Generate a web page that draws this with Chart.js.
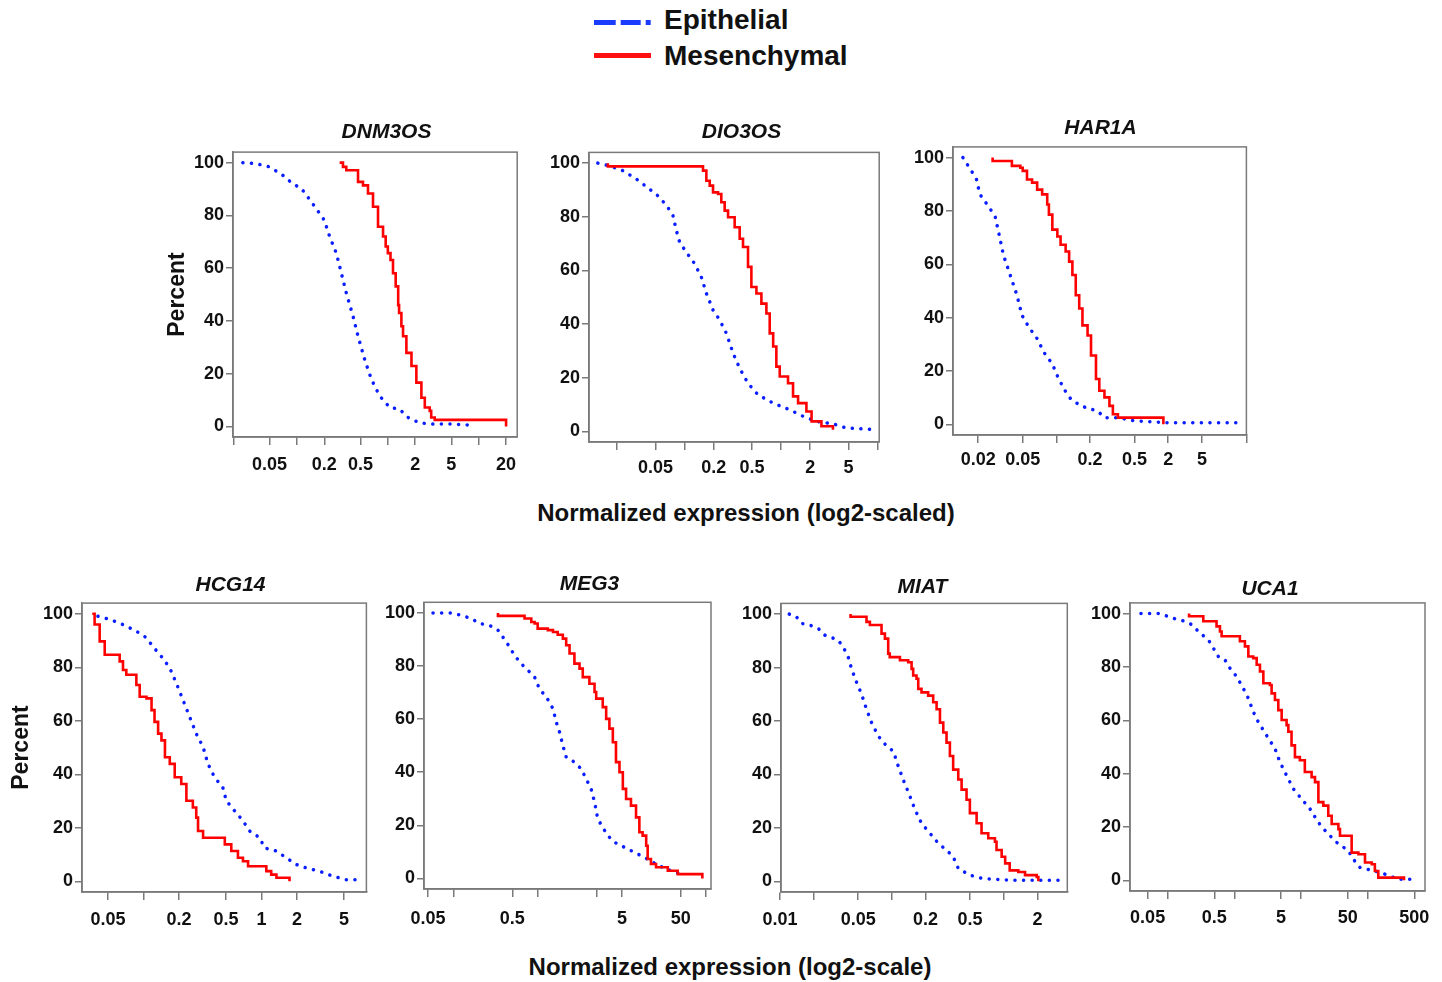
<!DOCTYPE html>
<html>
<head>
<meta charset="utf-8">
<script src="https://cdn.jsdelivr.net/npm/chart.js@4.4.1/dist/chart.umd.min.js"></script>
<style>
  body { margin: 0; width: 1442px; height: 982px; overflow: hidden; background: #fff; position: relative;
         font-family: 'Liberation Sans', Arial, sans-serif; }
  canvas { position: absolute; }
  .txt { position: absolute; font-weight: bold; color: #111; white-space: nowrap; line-height: 1; }
</style>
</head>
<body>

<!-- shared legend -->
<svg style="position:absolute;left:0;top:0" width="700" height="80">
  <line x1="594" y1="22.5" x2="651" y2="22.5" stroke="#1a3cff" stroke-width="5" stroke-dasharray="21.7 5 20 5 5"/>
  <line x1="594" y1="55.5" x2="651" y2="55.5" stroke="#ff1010" stroke-width="5"/>
</svg>
<div class="txt" style="left:664px;top:6px;font-size:28px">Epithelial</div>
<div class="txt" style="left:664px;top:42px;font-size:28px">Mesenchymal</div>

<!-- shared x axis titles -->
<div class="txt" style="left:746px;top:501px;font-size:24px;transform:translateX(-50%)">Normalized expression (log2-scaled)</div>
<div class="txt" style="left:730px;top:955px;font-size:24px;transform:translateX(-50%)">Normalized expression (log2-scale)</div>

<script>

const yTicks = [0, 20, 40, 60, 80, 100];

// DNM3OS
const dnm3osTicks  = [0.02, 0.05, 0.1, 0.2, 0.5, 1, 2, 5, 10, 20];
const dnm3osLabels = ['', '0.05', '', '0.2', '0.5', '', '2', '5', '', '20'];
const dnm3osEpi = [[0.0254,100],[0.0357,99.6],[0.05,98.4],[0.070,95.2],[0.090,92],[0.112,90.2],[0.127,87.7],
  [0.163,82.6],[0.20,78.2],[0.229,72],[0.271,65.7],[0.308,58.1],[0.349,50.6],[0.414,41.8],[0.47,34.2],
  [0.556,25.4],[0.659,17.9],[0.812,11.6],[1.05,7.2],[1.35,6.5],[1.67,3.4],[2.25,1.3],[3.15,0.9],[5.23,0.9],[7.98,0.5]];
const dnm3osMes = [[0.295,100],[0.321,98.4],[0.349,97.1],[0.432,97.1],[0.47,92.7],[0.533,91.4],[0.605,88.3],
  [0.687,83.3],[0.78,75.7],[0.886,72],[0.947,68.2],[1.0,65.7],[1.07,63.1],[1.14,58.1],[1.22,53.1],[1.3,46],
  [1.33,43],[1.41,38],[1.47,34.2],[1.6,27.9],[1.82,22.9],[2.06,16.6],[2.34,10.9],[2.55,7.2],[2.89,5.9],
  [3.0,3.4],[3.28,2.5],[20,2.5],[20,0]];

// DIO3OS
const dio3osTicks  = [0.02, 0.05, 0.1, 0.2, 0.5, 1, 2, 5, 10];
const dio3osLabels = ['', '0.05', '', '0.2', '0.5', '', '2', '5', ''];
const dio3osEpi = [[0.0126,100],[0.0167,99],[0.0229,97.2],[0.0315,94.1],[0.0433,90.3],[0.055,87.3],[0.067,83.5],
  [0.0757,80.4],[0.082,74.9],[0.0888,70.5],[0.104,66.8],[0.127,62.5],[0.149,57.5],[0.168,51.4],[0.197,45.2],
  [0.231,41.5],[0.271,36.5],[0.318,29.1],[0.372,23.5],[0.454,17.9],[0.577,13.6],[0.828,10.5],[1.23,8.0],
  [1.69,5.6],[2.33,3.7],[3.45,2.8],[4.76,1.2],[9.76,0.6]];
const dio3osMes = [[0.016,100],[0.016,98.8],[0.1375,98.8],[0.155,97.2],[0.168,93.4],[0.182,91.6],[0.197,89.1],
  [0.222,88.5],[0.24,85.4],[0.26,82.3],[0.282,79.8],[0.33,76.1],[0.372,71.8],[0.403,68.7],[0.454,61.3],
  [0.492,53.8],[0.555,51.4],[0.625,47.6],[0.704,43.9],[0.762,36.5],[0.828,31.6],[0.893,24.1],[0.968,20.4],
  [1.18,17.9],[1.33,13],[1.5,10.5],[1.83,7.4],[2.07,3.7],[2.33,3.7],[2.62,1.9],[3.45,1.9],[3.45,0.6]];

// HAR1A
const har1aTicks  = [0.02, 0.05, 0.1, 0.2, 0.5, 1, 2, 5];
const har1aLabels = ['0.02', '0.05', '', '0.2', '0.5', '2', '5', ''];
const har1aEpi = [[0.0146,100],[0.0174,95],[0.0193,91.8],[0.0207,86.2],[0.0246,81.8],[0.0283,78],[0.0303,72.3],
  [0.0336,63.5],[0.0386,56],[0.0444,48.4],[0.0492,40.9],[0.0566,36.5],[0.0673,32.1],[0.0773,27],[0.092,22.6],
  [0.102,18.2],[0.117,13.2],[0.135,9.4],[0.166,6.9],[0.204,5.7],[0.234,5.0],[0.269,2.5],[0.355,2.5],
  [0.502,1.3],[1.0,0.6],[4.3,0.6]];
const har1aMes = [[0.0269,100],[0.0269,98.7],[0.036,98.7],[0.04,96.9],[0.0476,96.2],[0.05,95],[0.0546,91.8],
  [0.0606,90.6],[0.0673,88],[0.0746,86.2],[0.0828,82.4],[0.0857,78.6],[0.092,73],[0.102,70.4],[0.109,67.3],
  [0.121,64.8],[0.13,61],[0.139,56],[0.149,48.4],[0.16,43.4],[0.171,37.1],[0.19,33.3],[0.204,25.8],
  [0.226,17],[0.242,12.6],[0.269,10.1],[0.298,6.9],[0.32,3.8],[0.355,2.5],[0.874,2.5],[0.905,0]];

// HCG14
const hcg14Ticks  = [0.05, 0.1, 0.2, 0.5, 1, 2, 5];
const hcg14Labels = ['0.05', '', '0.2', '0.5', '1', '2', '5'];
const hcg14Epi = [[0.0411,99.1],[0.0517,97.9],[0.067,96],[0.087,93.5],[0.106,91],[0.12,87.8],[0.146,83.4],
  [0.167,79.7],[0.19,74],[0.216,67.8],[0.246,61.5],[0.28,55.2],[0.32,50.2],[0.352,43.9],[0.4,38.9],
  [0.47,35.1],[0.504,30.1],[0.593,26.3],[0.697,22.6],[0.795,18.8],[0.967,16.3],[1.06,12.5],[1.34,11.3],
  [1.62,8.8],[1.97,6.3],[2.4,5.0],[3.1,3.8],[4.05,1.9],[5.24,0.6],[6.38,0.6]];
const hcg14Mes = [[0.0368,100],[0.0385,96],[0.0425,89.7],[0.0469,84.7],[0.059,84.7],[0.0628,82.2],[0.067,79],
  [0.0715,77.2],[0.0815,77.2],[0.087,73.4],[0.0928,69],[0.106,68.4],[0.117,64],[0.124,59.6],[0.133,55.2],
  [0.142,52.7],[0.152,46.4],[0.167,43.9],[0.184,38.9],[0.209,36.4],[0.231,30.1],[0.262,27.6],[0.28,23.8],
  [0.29,18.8],[0.32,16.3],[0.457,16.3],[0.489,13.8],[0.555,11.3],[0.632,8.8],[0.697,7.5],[0.77,5.6],
  [1.0,5.6],[1.1,3.8],[1.21,2.5],[1.34,1.3],[1.73,1.3],[1.73,0]];

// MEG3
const meg3Ticks  = [0.05, 0.1, 0.5, 1, 5, 10, 50, 100];
const meg3Labels = ['0.05', '', '0.5', '', '', '5', '50', ''];
const meg3Epi = [[0.0573,100],[0.0945,100],[0.124,99.1],[0.163,97.9],[0.204,96],[0.269,95.3],[0.338,93.5],
  [0.387,90.9],[0.464,87.2],[0.532,84],[0.637,80.9],[0.767,78.4],[0.92,75.8],[1.05,71.4],[1.27,68.3],
  [1.52,63.9],[1.66,58.9],[1.82,55.1],[1.99,50.1],[2.18,45.7],[2.73,43.8],[3.28,41.3],[3.76,37.5],
  [4.31,33.7],[4.73,28.7],[5.17,22.4],[5.92,19.2],[6.8,16.1],[8.16,13.6],[10.7,11.7],[14.1,9.8],
  [18.5,7.9],[25.4,5.4],[33.3,3.5],[43.9,2.3],[55,1.0]];
const meg3Mes = [[0.338,100],[0.338,98.9],[0.637,98.9],[0.699,97.9],[0.8,97.9],[0.84,96.6],[0.92,96],
  [1.0,94.1],[1.2,94.1],[1.32,93.5],[1.52,92.8],[1.73,91.8],[1.99,90.3],[2.18,87.8],[2.39,84.7],
  [2.73,80.9],[3.14,79],[3.43,75.8],[4.11,73.3],[4.73,70.2],[4.95,67.7],[5.92,64.5],[6.5,60.1],
  [7.1,56.4],[7.8,51.3],[8.5,43.8],[9.35,40],[10.25,33.7],[11.2,29.9],[12.8,27.4],[14.7,23],
  [16.1,17.4],[17.6,16.1],[19.4,12.3],[20.2,7.3],[22.1,5.4],[25.4,4.2],[35,2.9],[45.9,1.6],[86.8,1.6],[90,0]];

// MIAT
const miatTicks  = [0.01, 0.02, 0.05, 0.1, 0.2, 0.5, 1, 2];
const miatLabels = ['0.01', '', '0.05', '', '0.2', '0.5', '', '2'];
const miatEpi = [[0.0121,100],[0.014,99],[0.0156,96.5],[0.0185,95.9],[0.022,94.6],[0.0252,92.1],[0.0279,91.5],
  [0.0331,90.2],[0.0367,87.7],[0.0407,83.9],[0.0436,79.5],[0.0483,74.5],[0.0535,70.1],[0.0593,64.4],
  [0.0658,59.4],[0.0755,54.4],[0.0896,50.6],[0.103,48.7],[0.114,43.1],[0.126,38.1],[0.145,31.8],
  [0.161,26.8],[0.184,21.7],[0.219,18],[0.26,14.2],[0.308,11.7],[0.353,9.2],[0.392,4.8],[0.498,2.3],
  [0.656,1.0],[1.21,0.4],[3.18,0.4]];
const miatMes = [[0.0427,100],[0.0427,99],[0.0554,99],[0.0593,97.1],[0.0636,95.9],[0.0755,95.9],[0.0808,92.7],
  [0.0866,90.8],[0.0927,85.2],[0.0957,83.9],[0.11,83.9],[0.118,82.7],[0.14,82],[0.15,79.5],[0.155,77],
  [0.166,75.8],[0.172,72],[0.184,70.7],[0.211,69.5],[0.234,67],[0.251,64.4],[0.269,59.4],[0.288,55.7],
  [0.308,51.9],[0.33,46.9],[0.353,41.8],[0.392,38.1],[0.42,34.3],[0.465,30.5],[0.498,25.5],[0.572,21.7],
  [0.633,18],[0.727,16.1],[0.834,14.8],[0.862,11.7],[0.958,9.2],[1.03,6.7],[1.13,4.1],[1.35,3.5],
  [1.55,2.3],[1.97,1.6],[2.04,0]];

// UCA1
const uca1Ticks  = [0.05, 0.1, 0.5, 1, 5, 10, 50, 100, 500];
const uca1Labels = ['0.05', '', '0.5', '', '5', '', '50', '', '500'];
const uca1Epi = [[0.0397,100],[0.0767,100],[0.1145,98.4],[0.182,97.1],[0.228,95.9],[0.305,92.7],[0.406,90.2],
  [0.483,87.1],[0.574,83.9],[0.72,82.7],[0.86,79.5],[1.08,76.4],[1.36,72],[1.62,68.2],[1.92,63.2],
  [2.28,59.4],[3.03,54.4],[4.06,49.4],[4.83,44.3],[6.07,39.3],[7.67,34.3],[10.2,30.5],[13.6,26.8],
  [18.2,21.7],[24.2,18],[34.2,14.2],[51.3,11.1],[60.9,7.9],[76.6,4.8],[128,3.5],[181,2.3],[288,0.4],[483,0.4]];
const uca1Mes = [[0.209,100],[0.209,99],[0.305,99],[0.342,97.1],[0.483,97.1],[0.54,95.2],[0.608,93.3],
  [0.644,91.5],[1.02,91.5],[1.21,89.6],[1.44,87.7],[1.62,83.9],[1.92,83.3],[2.16,80.8],[2.42,78.3],
  [2.72,73.9],[3.41,73.2],[3.62,70.1],[4.06,67.6],[4.56,63.8],[5.12,60.1],[6.07,58.2],[6.45,55.7],
  [7.2,50.6],[8.1,46.2],[9.6,45],[11.4,40.6],[14.4,38.7],[16.2,36.8],[18.2,29.3],[21.6,28],[25.6,24.2],
  [28.8,21.1],[36.3,19.2],[38.4,16.7],[51.3,16.7],[57.4,10.4],[72.5,9.8],[91,6.7],[115,6.0],[128,3.5],
  [144,1.0],[342,1.0],[350,0]];

// layout of the seven panels: plot box [left, top, right, bottom] in page px,
// title centre x and its distance above the box, x range, label padding, "Percent" title offset
const panels = [
  {name: 'DNM3OS', epi: dnm3osEpi, mes: dnm3osMes, ticks: dnm3osTicks, labels: dnm3osLabels,
   min: 0.0198, max: 26.5, box: [233.3, 151.7, 517.3, 437], titleX: 386.7, titleGap: 19.5, labelPad: 9.5, percent: 5.5},
  {name: 'DIO3OS', epi: dio3osEpi, mes: dio3osMes, ticks: dio3osTicks, labels: dio3osLabels,
   min: 0.0102, max: 10.4, box: [589.3, 152.3, 879.3, 441.7], titleX: 741.7, titleGap: 19.8, labelPad: 7.2},
  {name: 'HAR1A', epi: har1aEpi, mes: har1aMes, ticks: har1aTicks, labels: har1aLabels,
   min: 0.0119, max: 5.0, box: [953.3, 147.3, 1246.7, 435.7], titleX: 1100.8, titleGap: 18.3, labelPad: 6.5},
  {name: 'HCG14', epi: hcg14Epi, mes: hcg14Mes, ticks: hcg14Ticks, labels: hcg14Labels,
   min: 0.0301, max: 7.76, box: [82.3, 603.3, 366.7, 891.7], titleX: 230.8, titleGap: 17.5, labelPad: 9, percent: 1.2},
  {name: 'MEG3', epi: meg3Epi, mes: meg3Mes, ticks: meg3Ticks, labels: meg3Labels,
   min: 0.0448, max: 114, box: [424.3, 602.7, 711.7, 889.3], titleX: 590, titleGap: 17.7, labelPad: 11.2},
  {name: 'MIAT', epi: miatEpi, mes: miatMes, ticks: miatTicks, labels: miatLabels,
   min: 0.0102, max: 3.7, box: [781, 603.3, 1067.3, 891.7], titleX: 922.5, titleGap: 15.8, labelPad: 9},
  {name: 'UCA1', epi: uca1Epi, mes: uca1Mes, ticks: uca1Ticks, labels: uca1Labels,
   min: 0.0272, max: 723, box: [1130, 603.3, 1425, 891.7], titleX: 1270, titleGap: 13.3, labelPad: 8.2}
];

Chart.defaults.font.family = "'Liberation Sans', Arial, sans-serif";
Chart.defaults.color = '#111';

const axisGray = '#7a7a7a';
const tickFont = {size: 18, weight: 'bold'};
const Yw = 75;   // y axis width
const Xh = 45;   // x axis height

// box round the plot area (top and right sides too)
const frame = {
  id: 'frame',
  beforeDatasetsDraw(chart) {
    const {ctx, chartArea: {left, top, right, bottom}} = chart;
    ctx.save();
    ctx.strokeStyle = axisGray;
    ctx.lineWidth = 1.5;
    ctx.strokeRect(left, top, right - left, bottom - top);
    ctx.restore();
  }
};

const toXY = arr => arr.map(([x, y]) => ({x, y}));

panels.forEach(p => {
  const [l, t, r, b] = p.box;
  const q = Yw + 2 * (p.titleX - (l + r) / 2);   // spare width on the right so the title sits where it should
  const pb = p.titleGap - 12.6;
  const tb = 4 + 25.2 + pb;
  const cv = document.createElement('canvas');
  cv.width = Math.round(Yw + (r - l) + q);
  cv.height = Math.round(tb + (b - t) + Xh);
  cv.style.left = Math.round(l - Yw) + 'px';
  cv.style.top = Math.round(t - tb) + 'px';
  document.body.appendChild(cv);

  new Chart(cv, {
    type: 'line',
    data: {
      datasets: [
        {
          label: 'Mesenchymal',
          data: toXY(p.mes),
          borderColor: '#ff0000',
          borderWidth: 2.6,
          stepped: true,
          pointRadius: 0,
          fill: false,
          yAxisID: 'y'
        },
        {
          label: 'Epithelial',
          data: toXY(p.epi),
          borderColor: '#0a1eff',
          borderWidth: 3.5,
          borderDash: [0.1, 8.5],
          borderCapStyle: 'round',
          pointRadius: 0,
          fill: false,
          yAxisID: 'y'
        }
      ]
    },
    options: {
      responsive: false,
      animation: false,
      layout: {padding: 0},
      scales: {
        x: {
          type: 'logarithmic',
          min: p.min,
          max: p.max,
          afterBuildTicks: s => { s.ticks = p.ticks.map(v => ({value: v})); },
          afterFit: s => { s.height = Xh; },
          ticks: {
            autoSkip: false,
            maxRotation: 0,
            minRotation: 0,
            padding: p.labelPad,
            color: '#111',
            font: tickFont,
            callback: (v, i) => p.labels[i]
          },
          grid: {drawOnChartArea: false, tickLength: 8, color: axisGray, lineWidth: 1.5},
          border: {display: true, color: axisGray, width: 1.5}
        },
        y: {
          type: 'linear',
          min: -4,
          max: 104,
          afterBuildTicks: s => { s.ticks = yTicks.map(v => ({value: v})); },
          afterFit: s => { s.width = Yw; },
          ticks: {padding: 2, color: '#111', font: tickFont, callback: v => String(v)},
          grid: {drawOnChartArea: false, tickLength: 7, color: axisGray, lineWidth: 1.5},
          border: {display: true, color: axisGray, width: 1.5},
          title: {
            display: p.percent !== undefined,
            text: 'Percent',
            color: '#111',
            font: {size: 23, weight: 'bold'},
            padding: {top: p.percent || 0, bottom: 0}
          }
        },
        y2: {
          type: 'linear',
          position: 'right',
          afterFit: s => { s.width = q; },
          ticks: {display: false},
          grid: {display: false},
          border: {display: false}
        }
      },
      plugins: {
        legend: {display: false},
        tooltip: {enabled: false},
        title: {
          display: true,
          text: p.name,
          color: '#111',
          font: {size: 21, weight: 'bold', style: 'italic', lineHeight: 1.2},
          padding: {top: 4, bottom: pb}
        }
      }
    },
    plugins: [frame]
  });
});
</script>
</body>
</html>
